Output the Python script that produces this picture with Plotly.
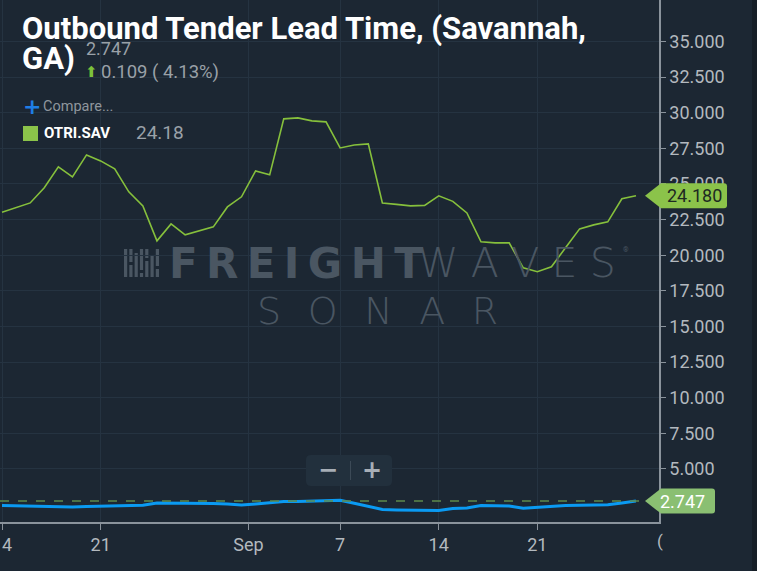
import plotly.graph_objects as go
import pandas as pd

# ---------------- data ----------------
start_date = "2023-08-14"
end_date = "2023-09-28"
otri_sav = [23.01, 23.32, 23.67, 24.73, 26.20, 25.50, 27.04, 26.62, 26.06, 24.45,
            23.46, 21.01, 22.20, 21.43, 21.71, 21.99, 23.39, 24.10, 25.92, 25.64,
            29.57, 29.64, 29.43, 29.36, 27.53, 27.74, 27.81, 23.67, 23.57, 23.46,
            23.50, 24.17, 23.78, 22.97, 20.94, 20.87, 20.87, 19.12, 18.84, 19.19,
            20.52, 21.85, 22.13, 22.34, 23.96, 24.18]
compare = [2.43, 2.41, 2.38, 2.35, 2.31, 2.34, 2.37, 2.39, 2.41, 2.43,
           2.45, 2.62, 2.62, 2.61, 2.60, 2.58, 2.54, 2.48, 2.55, 2.64,
           2.71, 2.72, 2.74, 2.77, 2.80, 2.60, 2.37, 2.16, 2.13, 2.12,
           2.11, 2.08, 2.22, 2.27, 2.43, 2.42, 2.40, 2.24, 2.30, 2.40,
           2.44, 2.46, 2.47, 2.49, 2.62, 2.747]
x_tick_vals = ["2023-08-14", "2023-08-21", "2023-08-31 12:00", "2023-09-07",
               "2023-09-14", "2023-09-21"]
x_tick_text = ["14", "21", "Sep", "7", "14", "21"]
y_tick_vals = [5, 7.5, 10, 12.5, 15, 17.5, 20, 22.5, 25, 27.5, 30, 32.5, 35]
y_tick_text = ["5.000", "7.500", "10.000", "12.500", "15.000", "17.500", "20.000",
               "22.500", "25.000", "27.500", "30.000", "32.500", "35.000"]
title_line1 = "Outbound Tender Lead Time, (Savannah,"
title_line2 = "GA)"
header_value = "2.747"
header_change = "0.109 ( 4.13%)"
legend_name = "OTRI.SAV"
legend_value = "24.18"

dates = pd.date_range(start_date, end_date, freq="D")

# ---------------- styling ----------------
BG = "#1c2733"
GRID = "#253341"
AXIS = "#8a939c"
TICK = "#b3b9bf"
GREEN = "#86c03c"
FLAG1 = "#8bc34a"
FLAG2 = "#8abf72"
BLUE = "#0a9af2"
WM = "#4a5662"
PW, PH = 659.0, 522.0   # plot area in pixels


def px(x):
    return x / PW


def py(y):
    return 1 - y / PH


def pix_path(points, close=True):
    s = "M " + " L ".join(f"{x:.1f},{-y:.1f}" for x, y in points)
    return s + (" Z" if close else "")


def rrect(x0, y0, x1, y1, r):
    return (f"M {x0+r},{-y0} L {x1-r},{-y0} Q {x1},{-y0} {x1},{-y0-r} "
            f"L {x1},{-y1+r} Q {x1},{-y1} {x1-r},{-y1} L {x0+r},{-y1} "
            f"Q {x0},{-y1} {x0},{-y1+r} L {x0},{-y0-r} Q {x0},{-y0} {x0+r},{-y0} Z")


fig = go.Figure()
fig.add_trace(go.Scatter(x=dates, y=compare, mode="lines",
                         line=dict(color=BLUE, width=3), hoverinfo="skip"))
fig.add_trace(go.Scatter(x=dates, y=otri_sav, mode="lines",
                         line=dict(color=GREEN, width=1.6), hoverinfo="skip"))

shapes = []
pix_top = dict(xref="paper", yref="paper", xanchor=0, yanchor=1,
               xsizemode="pixel", ysizemode="pixel", type="path")
# dashed last-value line
shapes.append(dict(type="line", xref="paper", yref="y", x0=0, x1=px(645),
                   y0=compare[-1], y1=compare[-1],
                   line=dict(color="#5e8a4c", width=1.5, dash="dash"), layer="above"))
# value flags
for val, col, w in [(otri_sav[-1], FLAG1, 68), (compare[-1], FLAG2, 56)]:
    shapes.append(dict(type="path", xref="paper", yref="y", xanchor=1, yanchor=val,
                       xsizemode="pixel", ysizemode="pixel",
                       path=(f"M -14,0 L 2,12.5 L {w-3},12.5 Q {w},12.5 {w},9.5 "
                             f"L {w},-9.5 Q {w},-12.5 {w-3},-12.5 L 2,-12.5 Z"),
                       fillcolor=col, line=dict(width=0), layer="above"))
# right dark strip
shapes.append(dict(type="rect", xref="paper", yref="paper", x0=px(752), x1=px(760),
                   y0=py(575), y1=1.01, fillcolor="#161e27", line=dict(width=0)))
# zoom widget
shapes.append(dict(**pix_top, path=rrect(306, 455, 392, 486, 5), fillcolor="#22303d",
                   line=dict(width=0), layer="above"))
shapes.append(dict(**pix_top, path=pix_path([(350.5, 461), (350.5, 480)], close=False),
                   line=dict(color="#3c4a57", width=1), layer="above"))
# legend square
shapes.append(dict(**pix_top, path=pix_path([(23, 126), (38, 126), (38, 141), (23, 141)]),
                   fillcolor=FLAG1, line=dict(width=0), layer="above"))
# logo icon bars
cols_x = [124, 129.3, 134.6, 139.9, 145.2, 150.5, 155.8]
segs = [[(249, 277)], [(249, 262), (265, 277)], [(253, 277)], [(249, 270), (273, 277)],
        [(249, 258), (261, 277)], [(255, 277)], [(249, 266), (269, 277)]]
for cx, sl in zip(cols_x, segs):
    for y0, y1 in sl:
        shapes.append(dict(**pix_top, path=pix_path([(cx, y0), (cx + 3.2, y0), (cx + 3.2, y1), (cx, y1)]),
                           fillcolor=WM, line=dict(width=0), layer="below"))

ann = []


def text(x, y, t, size, color, family="Roboto", weight="normal", xanchor="left", yref="paper"):
    ann.append(dict(x=px(x), y=py(y) if yref == "paper" else y, xref="paper", yref=yref,
                    text=t, showarrow=False, xanchor=xanchor, yanchor="middle",
                    font=dict(size=size, color=color, family=family, weight=weight)))


TITLE_FONT = "Roboto"
text(20, 28, title_line1, 31, "#ffffff", TITLE_FONT, "bold")
text(20, 58, title_line2, 31, "#ffffff", TITLE_FONT, "bold")
text(84, 48, header_value, 18, "#9aa1a8")
text(83, 72, "⬆", 15, "#7cc13a", "DejaVu Sans")
text(99, 72, header_change, 18.5, "#9aa1a8")
text(21, 107, "+", 22, "#1e7ee6", "DejaVu Sans", "bold")
text(41, 107, "Compare...", 14.5, "#8f969d")
text(42, 133, legend_name, 15, "#ffffff", "Roboto", "bold")
text(134, 133, legend_value, 19, "#9aa1a8")
# flag texts
ann.append(dict(x=px(694), y=otri_sav[-1], xref="paper", yref="y", text="24.180",
                showarrow=False, xanchor="center", yanchor="middle",
                font=dict(size=18, color="#1d2a22", family="Roboto")))
ann.append(dict(x=px(682), y=compare[-1], xref="paper", yref="y", text="2.747",
                showarrow=False, xanchor="center", yanchor="middle",
                font=dict(size=18, color="#ffffff", family="Roboto")))
# clipped next tick label
text(655, 541, "(", 17, TICK)
# zoom widget signs
text(328, 470, "−", 24, "#a7aeb6", "DejaVu Sans", "bold", "center")
text(372, 470, "+", 24, "#a7aeb6", "DejaVu Sans", "bold", "center")
# watermark
text(167, 263, "\u200a\u200a".join("FREIGHT"), 42, WM, "DejaVu Sans", "bold")
text(416, 263, "\u2009\u200a".join("WAVES"), 41, WM, "DejaVu Sans", 200)
text(255, 311, "\u2002\u200a\u200a".join("SONAR"), 38, WM, "DejaVu Sans", 200)
text(621, 250, "®", 7, WM)

fig.update_layout(
    width=757, height=571,
    margin=dict(l=0, r=98, t=0, b=49, autoexpand=False),
    paper_bgcolor=BG, plot_bgcolor=BG,
    showlegend=False,
    shapes=shapes, annotations=ann,
    xaxis=dict(range=["2023-08-13 20:35", "2023-09-29 15:15"], type="date",
               tickvals=x_tick_vals, ticktext=x_tick_text,
               showgrid=True, gridcolor=GRID, gridwidth=1,
               showline=True, linecolor=AXIS, linewidth=1.5,
               ticks="outside", ticklen=6, tickcolor=AXIS, tickwidth=1,
               ticklabeloverflow="allow", automargin=False,
               tickfont=dict(family="Roboto", size=18, color=TICK),
               zeroline=False, fixedrange=True),
    yaxis=dict(range=[1.28, 37.91], side="right",
               tickvals=y_tick_vals, ticktext=y_tick_text,
               showgrid=True, gridcolor=GRID, gridwidth=1,
               showline=True, linecolor=AXIS, linewidth=1.5,
               ticks="outside", ticklen=5, tickcolor=AXIS, automargin=False,
               tickfont=dict(family="Roboto", size=18, color=TICK),
               zeroline=False, fixedrange=True),
)

fig.write_html("out.html", config={"displayModeBar": False},
               post_script="document.body.style.margin='0';document.body.style.overflow='hidden';")
